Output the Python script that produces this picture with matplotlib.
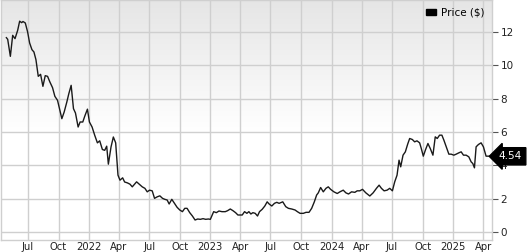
import numpy as np
import pandas as pd
import matplotlib
matplotlib.use('Agg')
import matplotlib.pyplot as plt
import matplotlib.dates as mdates
import matplotlib.transforms as mtransforms
from matplotlib.patches import Patch

# Weekly close prices
dates = [
    "2021-04-27", "2021-05-01", "2021-05-09", "2021-05-16", "2021-05-23", "2021-05-31",
    "2021-06-06", "2021-06-12", "2021-06-16", "2021-06-23", "2021-06-30", "2021-07-06",
    "2021-07-13", "2021-07-19", "2021-07-25", "2021-08-01", "2021-08-08", "2021-08-15",
    "2021-08-22", "2021-08-29", "2021-09-05", "2021-09-13", "2021-09-20", "2021-09-28",
    "2021-10-04", "2021-10-11", "2021-10-18", "2021-10-26", "2021-11-01", "2021-11-08",
    "2021-11-15", "2021-11-21", "2021-11-29", "2021-12-05", "2021-12-13", "2021-12-19",
    "2021-12-27", "2022-01-02", "2022-01-10", "2022-01-18", "2022-01-26", "2022-02-02",
    "2022-02-10", "2022-02-17", "2022-02-23", "2022-02-28", "2022-03-08", "2022-03-15",
    "2022-03-22", "2022-03-29", "2022-04-04", "2022-04-12", "2022-04-18", "2022-04-26",
    "2022-05-04", "2022-05-11", "2022-05-18", "2022-05-24", "2022-06-01", "2022-06-10",
    "2022-06-18", "2022-06-25", "2022-07-02", "2022-07-10", "2022-07-17", "2022-07-25",
    "2022-08-02", "2022-08-10", "2022-08-17", "2022-08-24", "2022-08-30", "2022-09-07",
    "2022-09-15", "2022-09-23", "2022-10-01", "2022-10-09", "2022-10-16", "2022-10-23",
    "2022-10-31", "2022-11-08", "2022-11-16", "2022-11-24", "2022-12-02", "2022-12-10",
    "2022-12-18", "2022-12-26", "2023-01-01", "2023-01-11", "2023-01-19", "2023-01-27",
    "2023-02-05", "2023-02-15", "2023-02-22", "2023-03-02", "2023-03-10", "2023-03-18",
    "2023-03-25", "2023-04-01", "2023-04-07", "2023-04-14", "2023-04-21", "2023-04-27",
    "2023-05-03", "2023-05-09", "2023-05-16", "2023-05-23", "2023-05-29", "2023-06-06",
    "2023-06-14", "2023-06-21", "2023-06-27", "2023-07-05", "2023-07-13", "2023-07-20",
    "2023-07-27", "2023-08-07", "2023-08-16", "2023-08-24", "2023-09-03", "2023-09-13",
    "2023-09-20", "2023-09-28", "2023-10-08", "2023-10-16", "2023-10-25", "2023-11-02",
    "2023-11-10", "2023-11-17", "2023-11-22", "2023-11-29", "2023-12-07", "2023-12-15",
    "2023-12-22", "2023-12-29", "2024-01-08", "2024-01-18", "2024-01-26", "2024-02-05",
    "2024-02-13", "2024-02-21", "2024-03-01", "2024-03-11", "2024-03-18", "2024-03-26",
    "2024-04-03", "2024-04-13", "2024-04-25", "2024-05-05", "2024-05-15", "2024-05-23",
    "2024-05-30", "2024-06-07", "2024-06-16", "2024-06-24", "2024-07-02", "2024-07-09",
    "2024-07-16", "2024-07-22", "2024-07-27", "2024-08-03", "2024-08-10", "2024-08-17",
    "2024-08-23", "2024-08-31", "2024-09-07", "2024-09-14", "2024-09-22", "2024-09-27",
    "2024-10-03", "2024-10-10", "2024-10-17", "2024-10-24", "2024-11-01", "2024-11-08",
    "2024-11-14", "2024-11-21", "2024-11-28", "2024-12-04", "2024-12-11", "2024-12-19",
    "2024-12-26", "2025-01-03", "2025-01-10", "2025-01-18", "2025-01-25", "2025-02-01",
    "2025-02-09", "2025-02-17", "2025-02-24", "2025-03-01", "2025-03-06", "2025-03-11",
    "2025-03-18", "2025-03-26", "2025-04-02", "2025-04-10", "2025-04-18", "2025-04-25",
]
prices = [
    11.66, 11.56, 10.54, 11.80, 11.60, 12.10, 12.65, 12.56, 12.63, 12.54, 12.00, 11.34,
    10.94, 10.80, 10.34, 9.34, 9.46, 8.74, 9.38, 9.34, 9.00, 8.66, 8.14, 7.90,
    7.40, 6.80, 7.20, 7.80, 8.30, 8.80, 7.40, 7.14, 6.30, 6.60, 6.60, 6.95,
    7.37, 6.60, 6.30, 5.80, 5.35, 5.47, 4.95, 4.90, 5.15, 4.07, 5.10, 5.70,
    5.35, 3.41, 3.11, 3.25, 3.00, 2.95, 2.87, 2.71, 2.87, 3.01, 2.87, 2.71,
    2.62, 2.41, 2.51, 2.47, 2.02, 2.11, 2.17, 2.02, 1.96, 1.92, 1.68, 1.96,
    1.72, 1.48, 1.32, 1.22, 1.42, 1.42, 1.16, 0.96, 0.72, 0.78, 0.76, 0.80,
    0.76, 0.78, 0.76, 1.22, 1.16, 1.26, 1.22, 1.22, 1.28, 1.38, 1.28, 1.16,
    1.02, 1.02, 1.02, 1.22, 1.12, 1.22, 1.08, 1.16, 1.12, 0.96, 1.22, 1.36,
    1.56, 1.81, 1.68, 1.56, 1.72, 1.78, 1.72, 1.81, 1.52, 1.42, 1.38, 1.32,
    1.22, 1.12, 1.12, 1.18, 1.18, 1.42, 1.81, 2.22, 2.35, 2.67, 2.41, 2.62,
    2.71, 2.56, 2.41, 2.31, 2.41, 2.51, 2.35, 2.28, 2.41, 2.38, 2.47, 2.47,
    2.56, 2.35, 2.16, 2.35, 2.62, 2.81, 2.62, 2.47, 2.51, 2.62, 2.47, 3.01,
    3.41, 4.31, 3.91, 4.61, 4.81, 5.27, 5.61, 5.55, 5.41, 5.47, 5.35, 5.01,
    4.55, 4.95, 5.31, 5.01, 4.61, 5.71, 5.61, 5.81, 5.81, 5.51, 5.11, 4.67,
    4.67, 4.61, 4.67, 4.75, 4.81, 4.61, 4.61, 4.51, 4.21, 4.11, 3.85, 5.11,
    5.25, 5.35, 5.11, 4.55, 4.55, 4.54,
]
last_price = 4.54

yticks = [0, 2, 4, 6, 8, 10, 12]
GRID = '#cfcfcf'

x = pd.to_datetime(dates)

fig = plt.figure(figsize=(5.27, 2.52), dpi=100)
ax = fig.add_axes([0.002, 12 / 252, 491 / 527, 240 / 252])

ymin, ymax = -0.48, 13.92
xmin, xmax = pd.Timestamp("2021-04-11"), pd.Timestamp("2025-04-28")

# Grey-to-white gradient background
grad = np.linspace(0, 1, 256).reshape(-1, 1)
shade = np.clip((grad - 0.45) / 0.55, 0, 1)
rgb = 1.0 - 0.10 * shade
img = np.dstack([rgb, rgb, rgb])
ax.imshow(img, extent=[mdates.date2num(xmin), mdates.date2num(xmax), ymin, ymax],
          origin='lower', aspect='auto', zorder=0)

ax.plot(x, prices, color='#1a1a1a', linewidth=1.0, zorder=3)

ax.set_xlim(xmin, xmax)
ax.set_ylim(ymin, ymax)


def quarter_label(v, pos):
    d = mdates.num2date(v)
    return str(d.year) if d.month == 1 else d.strftime('%b')


ax.xaxis.set_major_locator(mdates.MonthLocator(bymonth=[1, 4, 7, 10]))
ax.xaxis.set_major_formatter(plt.FuncFormatter(quarter_label))
ax.set_yticks(yticks)
ax.yaxis.tick_right()
ax.grid(True, color=GRID, linewidth=1.0, zorder=1)
ax.set_axisbelow(True)
ax.tick_params(axis='y', length=4, color='#555555', labelsize=7.5, pad=2, labelcolor='#222222')
ax.tick_params(axis='x', length=0, labelsize=7.2, pad=1.5, labelcolor='#222222')
for s in ax.spines.values():
    s.set_color(GRID)
    s.set_linewidth(1.0)

# Last-price tag
trans = mtransforms.blended_transform_factory(ax.transAxes, ax.transData)
ax.text(1.014, last_price, f"{last_price:.2f}", transform=trans, ha='left', va='center',
        fontsize=7.5, color='white', zorder=5, clip_on=False,
        bbox=dict(boxstyle='larrow,pad=0.35', fc='black', ec='black'))

ax.legend(handles=[Patch(facecolor='black', edgecolor='black', label='Price ($)')],
          loc='upper right', bbox_to_anchor=(1.0, 1.0), frameon=False, fontsize=7.5,
          handlelength=1.0, handleheight=0.5, handletextpad=0.5, borderaxespad=0.3)

fig.savefig('out.png', dpi=100)
